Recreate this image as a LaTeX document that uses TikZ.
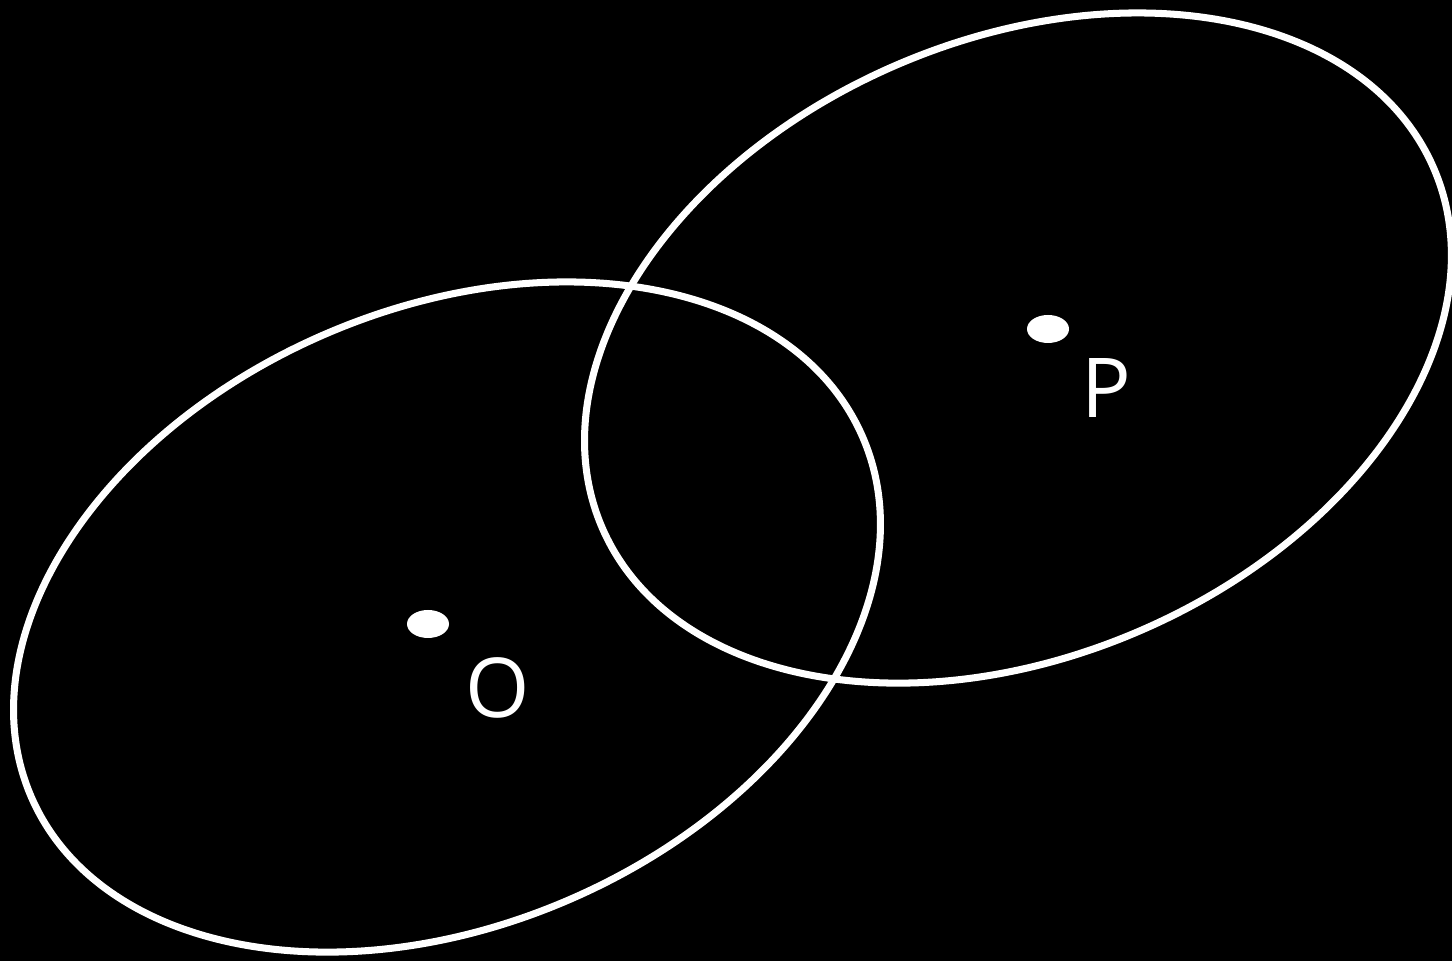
\documentclass[tikz,border=0pt]{standalone}
\usepackage{fontspec}
\setmainfont{Open Sans}
\def\RingA{453}
\def\RingB{308}
\def\RingTilt{23.4}
\def\RingW{2pt}
\def\DotA{21}
\def\DotB{14}

\begin{document}
\begin{tikzpicture}[x=0.01cm,y=0.01cm]

% Page background
\useasboundingbox (0,0) rectangle (1452,961);
\fill[black] (0,0) rectangle (1452,961);

% =====================================================
% TWO RINGS
% =====================================================
\coordinate (ringO) at (447,344);
\coordinate (ringP) at (1018,613);

\draw[white,line width=\RingW,rotate around={\RingTilt:(ringO)}] (ringO) ellipse ({\RingA} and {\RingB});
\draw[white,line width=\RingW,rotate around={\RingTilt:(ringP)}] (ringP) ellipse ({\RingA} and {\RingB});

% =====================================================
% POINTS AND LABELS
% =====================================================
\fill[white] (428,337) ellipse ({\DotA} and {\DotB});
\node[text=white,inner sep=0pt,font=\fontsize{23.5}{26}\selectfont] (labelO) at (498,273) {O};

\fill[white] (1048,632) ellipse ({\DotA} and {\DotB});
\node[text=white,inner sep=0pt,font=\fontsize{23.5}{26}\selectfont] (labelP) at (1106,573) {P};

\end{tikzpicture}
\end{document}
